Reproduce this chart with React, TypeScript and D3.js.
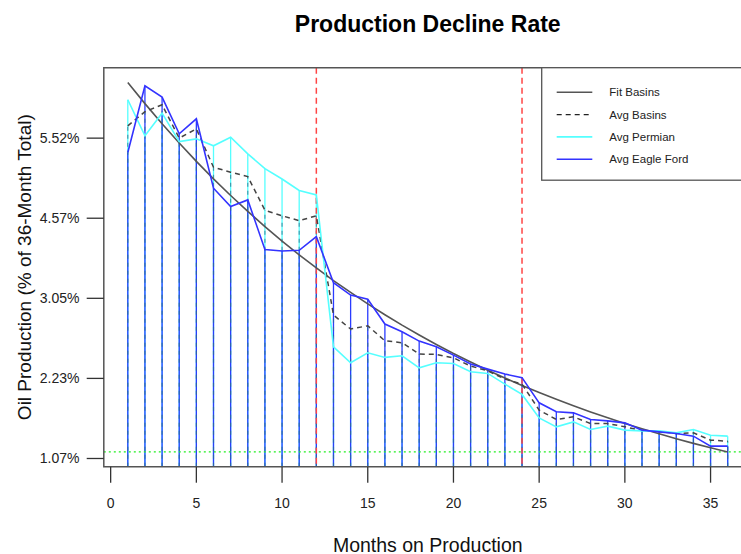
import React from "react";
import * as d3 from "d3";

const months = [1,2,3,4,5,6,7,8,9,10,11,12,13,14,15,16,17,18,19,20,21,22,23,24,25,26,27,28,29,30,31,32,33,34,35,36];

const fitBasins = [5.695,5.431,5.179,4.939,4.710,4.492,4.284,4.085,3.896,3.715,3.543,3.379,3.222,3.073,2.930,2.795,2.665,2.542,2.424,2.311,2.204,2.102,2.005,1.912,1.823,1.739,1.658,1.581,1.508,1.438,1.371,1.308,1.247,1.189,1.134,1.082];

const avgBasins = [5.154,5.33,5.416,5.0,5.116,4.637,4.575,4.52,4.10,4.03,3.97,4.03,2.791,2.616,2.657,2.47,2.445,2.304,2.30,2.257,2.154,2.095,1.991,1.929,1.604,1.487,1.52,1.437,1.437,1.395,1.35,1.337,1.312,1.32,1.229,1.216];

const avgPermian = [5.479,5.029,5.312,4.957,4.991,4.904,5.012,4.804,4.62,4.49,4.347,4.29,2.395,2.195,2.32,2.262,2.282,2.132,2.195,2.187,2.082,2.062,1.929,1.80,1.507,1.395,1.457,1.362,1.404,1.354,1.345,1.345,1.32,1.362,1.291,1.279];

const avgEagleFord = [4.82,5.654,5.512,5.054,5.241,4.375,4.145,4.229,3.61,3.59,3.60,3.77,3.195,3.041,2.988,2.679,2.583,2.466,2.395,2.291,2.179,2.116,2.054,2.01,1.695,1.583,1.57,1.487,1.47,1.445,1.354,1.332,1.312,1.279,1.154,1.154];

const xTicks = [0,5,10,15,20,25,30,35];
const yTickValues = [1,2,3,4,5];
const yTickLabels = ["1.07%","2.23%","3.05%","4.57%","5.52%"];
const cutoffMonths = [12,24];
const legendLabels = ["Fit Basins","Avg Basins","Avg Permian","Avg Eagle Ford"];

const W = 741, H = 554;
const FONT = "'Liberation Sans', Arial, Helvetica, sans-serif";

export default function App() {
  const xMin = d3.min(months)!, xMax = d3.max(months)!;
  const xr = xMax - xMin;
  const x = d3.scaleLinear().domain([xMin - 0.04 * xr, xMax + 0.04 * xr]).range([103.8, 751.7]);
  const yMin = d3.min(fitBasins)!, yMax = d3.max(fitBasins)!;
  const yr = yMax - yMin;
  const y = d3.scaleLinear().domain([yMin - 0.04 * yr, yMax + 0.04 * yr]).range([466.7, 67.7]);

  const [pl, pr] = x.range();
  const [pb, pt] = y.range();

  const line = (vals: number[]) =>
    d3.line<number>().x((_, i) => x(months[i])).y((d) => y(d))(vals) || "";

  const legendStyles = [
    { stroke: "#555", dash: undefined, w: 1.6 },
    { stroke: "#222", dash: "5,4", w: 1.4 },
    { stroke: "#55ffff", dash: undefined, w: 1.6 },
    { stroke: "#3333ff", dash: undefined, w: 1.6 },
  ];

  return (
    <svg width={W} height={H} style={{ position: "absolute", left: 0, top: 0, background: "#fff" }} fontFamily={FONT}>
      <defs>
        <clipPath id="plotClip">
          <rect x={pl} y={pt} width={pr - pl} height={pb - pt} />
        </clipPath>
      </defs>
      <rect x={0} y={0} width={W} height={H} fill="#fff" />
      <g clipPath="url(#plotClip)">
        {/* vertical drop lines */}
        {months.map((m, i) => (
          <line key={"pc" + m} x1={x(m)} x2={x(m)} y1={pb} y2={y(avgPermian[i])} stroke="#55ffff" strokeWidth={1.3} />
        ))}
        {months.map((m, i) => (
          <line key={"eb" + m} x1={x(m)} x2={x(m)} y1={pb} y2={y(avgEagleFord[i])} stroke="#2a3cff" strokeWidth={1.3} />
        ))}
        {months.map((m, i) => (
          <line key={"ab" + m} x1={x(m)} x2={x(m)} y1={pb} y2={y(avgBasins[i])} stroke="#2d6f8a" strokeOpacity={0.7} strokeWidth={1.2} strokeDasharray="4,4" />
        ))}
        {/* green min line */}
        <line x1={pl} x2={pr} y1={y(yMin)} y2={y(yMin)} stroke="#22ee22" strokeWidth={1.3} strokeDasharray="2,3" />
        {/* red cutoffs */}
        {cutoffMonths.map((m) => (
          <line key={"r" + m} x1={x(m)} x2={x(m)} y1={pt} y2={pb} stroke="#ff4444" strokeWidth={1.5} strokeDasharray="6,4" />
        ))}
        {/* series lines */}
        <path d={line(fitBasins)} fill="none" stroke="#555" strokeWidth={1.6} />
        <path d={line(avgBasins)} fill="none" stroke="#444" strokeWidth={1.5} strokeDasharray="5,4" />
        <path d={line(avgPermian)} fill="none" stroke="#55ffff" strokeWidth={1.6} />
        <path d={line(avgEagleFord)} fill="none" stroke="#3333ff" strokeWidth={1.6} />
      </g>
      {/* box */}
      <path d={`M${pr},${pt}H${pl}V${pb}H${pr}`} fill="none" stroke="#555" strokeWidth={1.5} />
      {/* y axis */}
      {yTickValues.map((v, i) => (
        <g key={"yt" + v}>
          <line x1={86.7} x2={pl} y1={y(v)} y2={y(v)} stroke="#333" strokeWidth={1.3} />
          <text x={79.5} y={y(v)} dy="0.35em" textAnchor="end" fontSize={14} fill="#222">{yTickLabels[i]}</text>
        </g>
      ))}
      {/* x axis */}
      {xTicks.map((t) => (
        <g key={"xt" + t}>
          <line x1={x(t)} x2={x(t)} y1={pb} y2={pb + 16} stroke="#333" strokeWidth={1.3} />
          <text x={x(t)} y={508} textAnchor="middle" fontSize={14} fill="#222">{t}</text>
        </g>
      ))}
      {/* titles */}
      <text x={(pl + pr) / 2} y={31.5} textAnchor="middle" fontSize={23} fontWeight="bold" fill="#000">Production Decline Rate</text>
      <text x={(pl + pr) / 2} y={551.5} textAnchor="middle" fontSize={19.5} fill="#111">Months on Production</text>
      <text transform={`translate(31,${(pt + pb) / 2}) rotate(-90)`} textAnchor="middle" fontSize={19} fill="#111">Oil Production (% of 36-Month Total)</text>
      {/* legend */}
      <rect x={541.7} y={pt} width={pr - 541.7} height={112.5} fill="#fff" stroke="#555" strokeWidth={1.3} />
      {legendLabels.map((lab, i) => {
        const ly = 92.3 + i * 22.3;
        const s = legendStyles[i];
        return (
          <g key={lab}>
            <line x1={556.7} x2={592.3} y1={ly} y2={ly} stroke={s.stroke} strokeWidth={s.w} strokeDasharray={s.dash} />
            <text x={609.3} y={ly} dy="0.35em" fontSize={11.5} fill="#222">{lab}</text>
          </g>
        );
      })}
    </svg>
  );
}
